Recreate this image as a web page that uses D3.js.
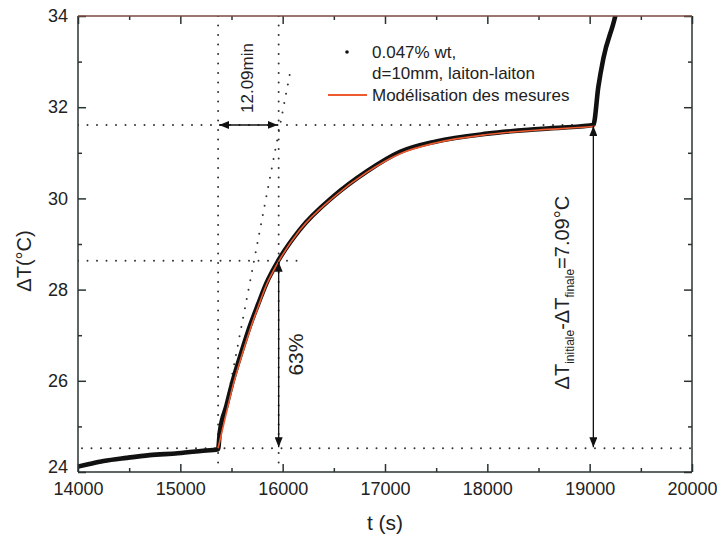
<!DOCTYPE html>
<html><head><meta charset="utf-8">
<script src="https://cdn.jsdelivr.net/npm/d3@7"></script>
<style>
html,body{margin:0;padding:0;background:#fff;}
text{font-family:Arial,"Liberation Sans",sans-serif;fill:#222;}
</style></head>
<body><svg id="c" width="717" height="539"></svg>
<script>
const timeData = [14000,14100,14250,14474,14700,14975,15200,15369,15385,15450,15515,15600,15678,15760,15841,15961,16166,16495,16821,17147,17500,18000,18500,19000,19036,19085,19134,19248,19270];
const tempData = [24.12,24.17,24.24,24.31,24.37,24.41,24.46,24.50,24.86,25.45,26.02,26.65,27.19,27.68,28.14,28.65,29.31,30.04,30.59,31.02,31.25,31.42,31.52,31.60,31.61,32.45,33.07,33.98,34.2];
// model curve (red)
const timeFit = [15369,15450,15515,15600,15678,15760,15841,15961,16166,16495,16821,17147,17500,18000,18500,19000,19050];
const tempFit = [24.52,25.30,25.90,26.55,27.10,27.62,28.10,28.62,29.30,30.02,30.57,30.98,31.22,31.40,31.50,31.57,31.58];
// annotation values
const tStart = 15369, tTau = 15961, tEnd = 19036, tTangentEnd = 16072, t63End = 16199;
const T0 = 24.52, Tf = 31.61, T63 = 28.63, TtangentEnd = 32.75;
const xTicks = [14000,15000,16000,17000,18000,19000,20000];
const yTicks = [24,26,28,30,32,34];
const legendLabels = ["0.047% wt,","d=10mm, laiton-laiton","Modélisation des mesures"];

const svg = d3.select("#c");
const L=78,R=692,T=16,B=472;
const x = d3.scaleLinear().domain([14000,20000]).range([L,R]);
const y = d3.scaleLinear().domain([24,34]).range([B,T]);

const defs = svg.append("defs");
defs.append("clipPath").attr("id","clip").append("rect").attr("x",L).attr("y",T).attr("width",R-L).attr("height",B-T);
defs.append("marker").attr("id","ah").attr("viewBox","0 0 10 8").attr("refX",10).attr("refY",4)
   .attr("markerWidth",10).attr("markerHeight",8).attr("markerUnits","userSpaceOnUse").attr("orient","auto")
   .append("path").attr("d","M0,0L10,4L0,8Z").attr("fill","#111");
defs.append("marker").attr("id","as").attr("viewBox","0 0 10 8").attr("refX",0).attr("refY",4)
   .attr("markerWidth",10).attr("markerHeight",8).attr("markerUnits","userSpaceOnUse").attr("orient","auto")
   .append("path").attr("d","M10,0L0,4L10,8Z").attr("fill","#111");

const g = svg.append("g").attr("clip-path","url(#clip)");
const dot = {stroke:"#333","stroke-width":2,"stroke-dasharray":"0,9.5","stroke-linecap":"round"};
function dotted(x1,y1,x2,y2){
  const l=g.append("line").attr("x1",x1).attr("y1",y1).attr("x2",x2).attr("y2",y2);
  for(const k in dot) l.attr(k,dot[k]);
}
dotted(x(tStart),T,x(tStart),B);
dotted(x(tTau),T,x(tTau),B);
dotted(L,y(Tf),x(tEnd),y(Tf));
dotted(L,y(T63),x(t63End),y(T63));
dotted(L+4,y(T0),R,y(T0));
dotted(x(tStart),y(T0),x(tTangentEnd),y(TtangentEnd));

// data
const line = d3.line().x(d=>x(d[0])).y(d=>y(d[1])).curve(d3.curveMonotoneX);
g.append("path").datum(d3.zip(timeData,tempData)).attr("d",line)
 .attr("fill","none").attr("stroke","#111").attr("stroke-width",4.6).attr("stroke-linejoin","round");
g.append("path").datum(d3.zip(timeFit,tempFit)).attr("d",line)
 .attr("fill","none").attr("stroke","#ee5a2f").attr("stroke-width",1.6);

// arrows
function arrow(x1,y1,x2,y2){
  svg.append("line").attr("x1",x1).attr("y1",y1).attr("x2",x2).attr("y2",y2)
   .attr("stroke","#111").attr("stroke-width",1.3)
   .attr("marker-start","url(#as)").attr("marker-end","url(#ah)");
}
arrow(x(tStart)+1,y(Tf),x(tTau)-1,y(Tf));
arrow(x(tTau),y(T63)+1,x(tTau),y(T0)-1);
arrow(x(tEnd),y(Tf)+1,x(tEnd),y(T0)-1);

// annotation texts
svg.append("text").attr("transform",`translate(${(x(tStart)+x(tTau))/2+5},78) rotate(-90)`)
 .attr("text-anchor","middle").attr("font-size",17).text("12.09min");
svg.append("text").attr("transform",`translate(${x(tTau)+24},${(y(T63)+y(T0))/2}) rotate(-90)`)
 .attr("text-anchor","middle").attr("font-size",21).text("63%");
const ann = svg.append("text").attr("transform",`translate(${x(tEnd)-24},${(y(Tf)+y(T0))/2+6}) rotate(-90)`)
 .attr("text-anchor","middle").attr("font-size",20);
ann.append("tspan").text("ΔT");
ann.append("tspan").attr("font-size",12).attr("dy",5).text("initiale");
ann.append("tspan").attr("dy",-5).text("-ΔT");
ann.append("tspan").attr("font-size",12).attr("dy",5).text("finale");
ann.append("tspan").attr("dy",-5).text("=7.09°C");

// legend
svg.append("circle").attr("cx",347).attr("cy",52).attr("r",1.8).attr("fill","#111");
legendLabels.forEach((s,i)=>{
  svg.append("text").attr("x",372).attr("y",57.5+i*21.5).attr("font-size",17).text(s);
});
svg.append("line").attr("x1",328).attr("x2",367).attr("y1",95).attr("y2",95).attr("stroke","#ee5a2f").attr("stroke-width",1.8);

// axes
const fr = svg.append("g");
const axCol = "#2a3333";
const xb = d3.axisBottom(x).tickValues(xTicks).tickSize(-8).tickPadding(10).tickFormat(d3.format("d"));
const xbm = d3.axisBottom(x).tickValues(d3.range(14500,20000,1000)).tickSize(-4).tickFormat("");
const xt = d3.axisTop(x).tickValues(xTicks).tickSize(-8).tickFormat("");
const xtm = d3.axisTop(x).tickValues(d3.range(14500,20000,1000)).tickSize(-4).tickFormat("");
const yl = d3.axisLeft(y).tickValues(yTicks).tickSize(-8).tickPadding(10).tickFormat(d3.format("d"));
const ylm = d3.axisLeft(y).tickValues(d3.range(25,34,2)).tickSize(-4).tickFormat("");
const yr = d3.axisRight(y).tickValues(yTicks).tickSize(-8).tickFormat("");
const yrm = d3.axisRight(y).tickValues(d3.range(25,34,2)).tickSize(-4).tickFormat("");
function put(ax,tr){
  const a = fr.append("g").attr("transform",tr).call(ax);
  a.select(".domain").remove();
  a.selectAll("line").attr("stroke",axCol).attr("stroke-width",1.5);
  a.selectAll("text").attr("font-size",18).attr("fill","#222").attr("font-family","Arial, 'Liberation Sans', sans-serif");
  return a;
}
put(xb,`translate(0,${B})`); put(xbm,`translate(0,${B})`);
put(xt,`translate(0,${T})`); put(xtm,`translate(0,${T})`);
const yAx = put(yl,`translate(${L},0)`); put(ylm,`translate(${L},0)`);
yAx.selectAll(".tick").filter(d=>d===24).select("text").attr("dy","0.05em");
put(yr,`translate(${R},0)`); put(yrm,`translate(${R},0)`);
// frame
fr.append("line").attr("x1",L).attr("x2",L).attr("y1",T).attr("y2",B).attr("stroke",axCol).attr("stroke-width",1.5);
fr.append("line").attr("x1",R).attr("x2",R).attr("y1",T).attr("y2",B).attr("stroke",axCol).attr("stroke-width",1.5);
fr.append("line").attr("x1",L).attr("x2",R).attr("y1",B).attr("y2",B).attr("stroke",axCol).attr("stroke-width",1.5);
fr.append("line").attr("x1",L).attr("x2",R).attr("y1",T).attr("y2",T).attr("stroke","#7a4a42").attr("stroke-width",1.5);

svg.append("text").attr("x",(L+R)/2).attr("y",530).attr("text-anchor","middle").attr("font-size",21).text("t (s)");
svg.append("text").attr("transform",`translate(31,261) rotate(-90)`).attr("text-anchor","middle").attr("font-size",20).text("ΔT(°C)");
</script></body></html>
